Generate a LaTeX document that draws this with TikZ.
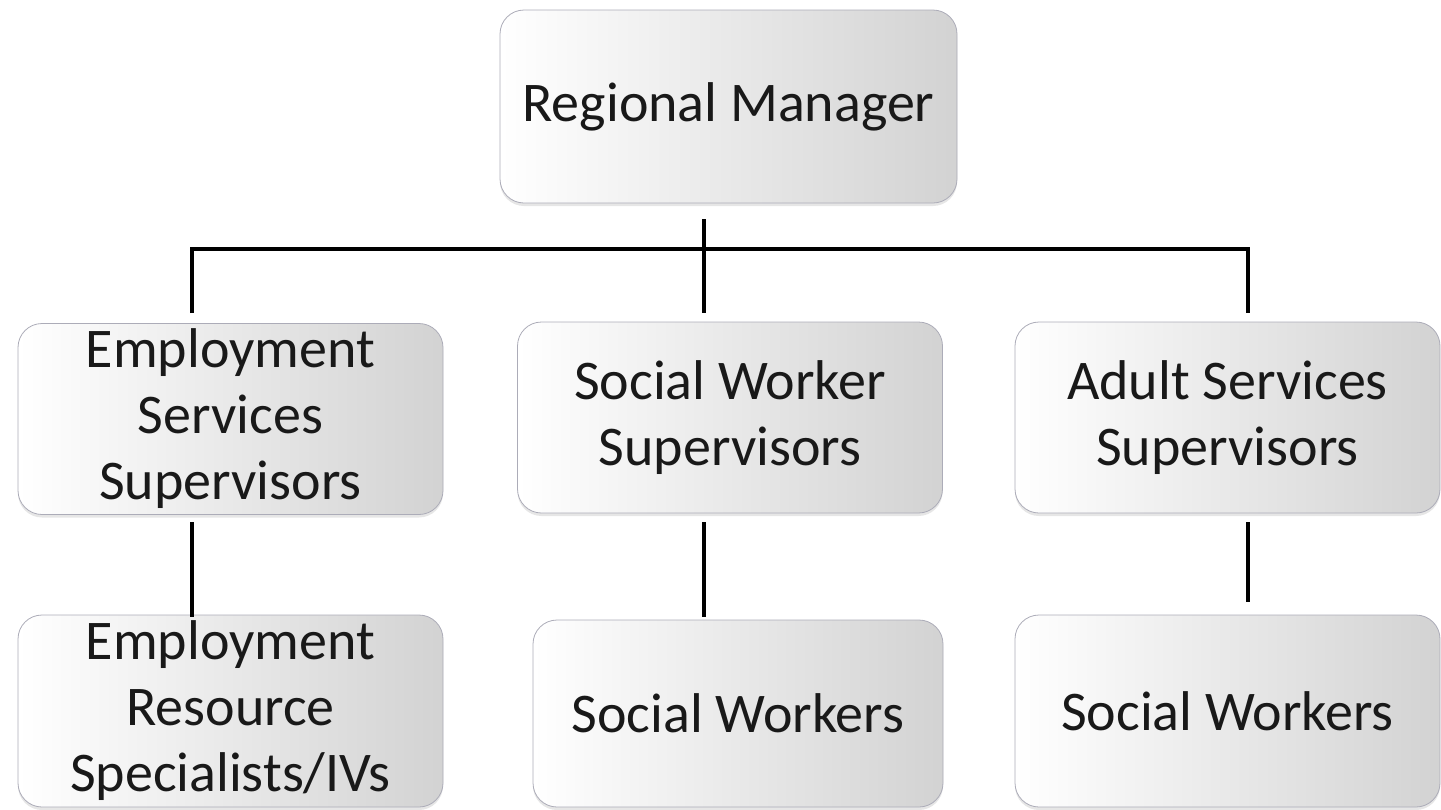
\documentclass[tikz,border=0pt]{standalone}
\usepackage{fontspec}
\setmainfont{Carlito}
\usepackage{tikz}
\usetikzlibrary{shadows}
\definecolor{boxedge}{RGB}{172,172,184}
\tikzset{box/.style={draw=boxedge, rounded corners=12pt, left color=white, right color=gray!35,
   drop shadow={opacity=0.2, shadow xshift=0pt, shadow yshift=-1.5pt},
   align=center, inner sep=0pt, text=black!90,
   font=\fontsize{28}{33}\selectfont},
 row/.style={box, minimum width=212.5pt, minimum height=95.5pt},
 link/.style={draw=black, line width=2pt},
 }

\begin{document}
\begin{tikzpicture}[x=0.5pt, y=-0.5pt]
        \useasboundingbox (0,0) rectangle (1441,809);
        \node[box, minimum width=228.5pt, minimum height=96.5pt] (boss) at (728.5,106.5) {Regional Manager};
        \node[row] (emp) at (230.5,419) {Employment\\Services\\Supervisors};
        \node[row] (soc) at (730,417.5) {Social Worker\\Supervisors};
        \node[row] (adu) at (1227.5,417.5) {Adult Services\\Supervisors};
        \node[row, minimum height=96pt] (spec) at (230.5,711) {Employment\\Resource\\Specialists/IVs};
        \node[box, minimum width=205pt, minimum height=93.5pt] (sw1) at (738,713.5) {Social Workers};
        \node[row, minimum height=96pt] (sw2) at (1227.5,711) {Social Workers};
        \coordinate (top-a) at (704,219);
        \coordinate (top-b) at (704,313);
        \coordinate (bus-l) at (192,249);
        \coordinate (bus-r) at (1248,249);
        \coordinate (drop-l) at (192,313);
        \coordinate (drop-r) at (1248,313);
        \draw[link] (top-a) -- (top-b);
        \draw[link] (drop-l) -- (bus-l) -- (bus-r) -- (drop-r);
        \draw[link] (192,522) -- (192,617);
        \draw[link] (704,522) -- (704,617);
        \draw[link] (1248,522) -- (1248,602);
    \end{tikzpicture}
\end{document}
